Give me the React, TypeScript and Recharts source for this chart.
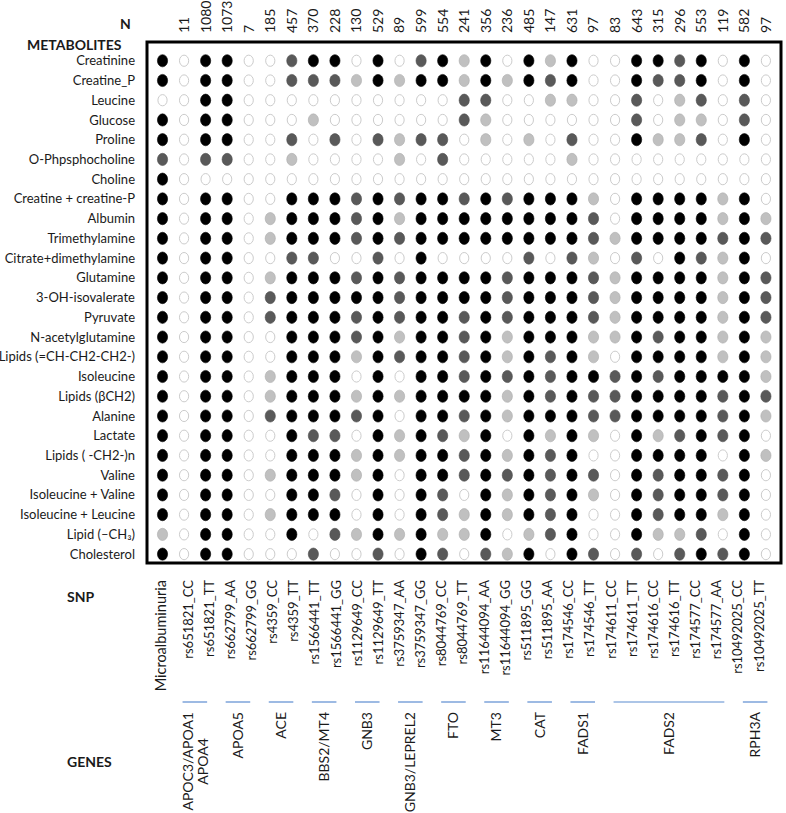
import React from 'react';
import { ScatterChart, Scatter, XAxis, YAxis, ReferenceArea } from 'recharts';

const metabolites = [
  'Creatinine', 'Creatine_P', 'Leucine', 'Glucose', 'Proline', 'O-Phpsphocholine', 'Choline',
  'Creatine + creatine-P', 'Albumin', 'Trimethylamine', 'Citrate+dimethylamine', 'Glutamine',
  '3-OH-isovalerate', 'Pyruvate', 'N-acetylglutamine', 'Lipids (=CH-CH2-CH2-)', 'Isoleucine',
  'Lipids (βCH2)', 'Alanine', 'Lactate', 'Lipids ( -CH2-)n', 'Valine', 'Isoleucine + Valine',
  'Isoleucine + Leucine', 'Lipid (–CH₃)', 'Cholesterol',
];

const snps = [
  'Microalbuminuria', 'rs651821_CC', 'rs651821_TT', 'rs662799_AA', 'rs662799_GG', 'rs4359_CC',
  'rs4359_TT', 'rs1566441_TT', 'rs1566441_GG', 'rs1129649_CC', 'rs1129649_TT', 'rs3759347_AA',
  'rs3759347_GG', 'rs8044769_CC', 'rs8044769_TT', 'rs11644094_AA', 'rs11644094_GG', 'rs511895_GG',
  'rs511895_AA', 'rs174546_CC', 'rs174546_TT', 'rs174611_CC', 'rs174611_TT', 'rs174616_CC',
  'rs174616_TT', 'rs174577_CC', 'rs174577_AA', 'rs10492025_CC', 'rs10492025_TT',
];

// sample size per SNP column (Microalbuminuria has none)
const nCounts = [
  11, 1080, 1073, 7, 185, 457, 370, 228, 130, 529, 89, 599, 554, 241, 356, 236, 485, 147, 631, 97,
  83, 643, 315, 296, 553, 119, 582, 97,
];

const geneNames = [
  ['APOC3/APOA1', 'APOA4'], ['APOA5'], ['ACE'], ['BBS2/MT4'], ['GNB3'], ['GNB3/LEPREL2'], ['FTO'],
  ['MT3'], ['CAT'], ['FADS1'], ['FADS2'], ['RPH3A'],
];
const geneFrom = [1, 3, 5, 7, 9, 11, 13, 15, 17, 19, 21, 27];
const geneTo = [2, 4, 6, 8, 10, 12, 14, 16, 18, 20, 26, 28];

// 0 = none, 1 = light grey, 2 = dark grey, 3 = black
const levels = [
  [3, 0, 3, 3, 0, 0, 2, 3, 3, 0, 3, 0, 2, 3, 1, 3, 0, 3, 1, 3, 0, 0, 3, 3, 2, 3, 0, 3, 0],
  [3, 0, 3, 3, 0, 0, 2, 2, 2, 1, 3, 1, 3, 3, 1, 3, 1, 3, 2, 3, 0, 0, 3, 2, 2, 3, 0, 3, 0],
  [0, 0, 3, 3, 0, 0, 0, 0, 0, 0, 0, 0, 0, 0, 2, 2, 0, 0, 1, 1, 0, 0, 2, 0, 1, 2, 0, 2, 0],
  [3, 0, 3, 3, 0, 0, 0, 1, 0, 0, 0, 0, 0, 0, 2, 1, 0, 0, 0, 0, 0, 0, 2, 0, 1, 1, 0, 2, 0],
  [3, 0, 3, 3, 0, 0, 2, 0, 2, 0, 2, 1, 2, 2, 0, 1, 0, 1, 0, 2, 0, 0, 3, 1, 1, 2, 0, 3, 0],
  [2, 0, 2, 2, 0, 0, 1, 0, 0, 0, 0, 1, 0, 2, 0, 0, 0, 0, 0, 1, 0, 0, 0, 0, 0, 0, 0, 0, 0],
  [3, 0, 0, 0, 0, 0, 0, 0, 0, 0, 0, 0, 0, 0, 0, 0, 0, 0, 0, 0, 0, 0, 0, 0, 0, 0, 0, 0, 0],
  [3, 0, 3, 3, 0, 0, 3, 3, 3, 2, 3, 2, 3, 3, 2, 3, 2, 3, 3, 3, 1, 0, 3, 3, 3, 3, 1, 3, 0],
  [3, 0, 3, 3, 0, 1, 3, 3, 3, 2, 3, 1, 3, 3, 3, 3, 3, 3, 3, 3, 2, 0, 3, 3, 3, 3, 1, 3, 1],
  [3, 0, 3, 3, 0, 1, 3, 3, 3, 2, 3, 2, 3, 3, 3, 3, 3, 3, 3, 3, 2, 1, 3, 3, 3, 3, 2, 3, 2],
  [3, 0, 3, 3, 0, 0, 2, 2, 0, 0, 2, 0, 3, 0, 0, 0, 0, 2, 0, 2, 1, 0, 2, 0, 3, 2, 1, 3, 0],
  [3, 0, 3, 3, 0, 1, 3, 3, 3, 2, 3, 2, 3, 3, 3, 3, 2, 3, 3, 3, 2, 1, 3, 3, 3, 3, 1, 3, 2],
  [3, 0, 3, 3, 0, 2, 3, 3, 3, 3, 3, 2, 3, 3, 3, 3, 2, 3, 3, 3, 2, 1, 3, 3, 3, 3, 1, 3, 2],
  [3, 0, 3, 3, 0, 2, 3, 3, 3, 2, 3, 2, 3, 3, 2, 3, 2, 3, 3, 3, 2, 1, 3, 3, 3, 3, 1, 3, 2],
  [3, 0, 3, 3, 0, 0, 3, 3, 3, 2, 3, 1, 3, 3, 2, 3, 1, 3, 3, 3, 1, 1, 3, 2, 3, 3, 1, 3, 1],
  [3, 0, 3, 3, 0, 0, 3, 3, 3, 1, 3, 2, 3, 3, 2, 3, 1, 3, 2, 3, 1, 0, 3, 3, 3, 3, 1, 3, 1],
  [3, 0, 3, 3, 0, 1, 3, 3, 3, 0, 3, 0, 3, 3, 2, 3, 2, 3, 2, 3, 3, 2, 3, 2, 3, 3, 3, 3, 1],
  [3, 0, 3, 3, 0, 1, 3, 3, 3, 1, 3, 1, 3, 3, 3, 3, 1, 3, 2, 3, 2, 2, 3, 3, 3, 3, 2, 3, 2],
  [3, 0, 3, 3, 0, 2, 3, 3, 3, 2, 3, 0, 3, 3, 2, 3, 1, 3, 3, 3, 2, 2, 3, 3, 3, 3, 2, 3, 1],
  [3, 0, 3, 3, 0, 0, 3, 2, 2, 0, 3, 1, 3, 2, 1, 3, 0, 3, 1, 3, 1, 0, 3, 1, 2, 3, 2, 3, 0],
  [3, 0, 3, 3, 0, 0, 3, 3, 3, 1, 3, 1, 3, 3, 2, 3, 1, 3, 2, 3, 0, 0, 3, 3, 3, 3, 0, 3, 1],
  [3, 0, 3, 3, 0, 1, 3, 3, 3, 1, 3, 0, 3, 3, 2, 3, 2, 3, 2, 3, 2, 0, 3, 2, 3, 3, 2, 3, 0],
  [3, 0, 3, 3, 0, 0, 3, 3, 2, 0, 3, 0, 3, 2, 0, 3, 1, 3, 2, 3, 1, 0, 3, 2, 3, 3, 2, 3, 0],
  [3, 0, 3, 3, 0, 1, 3, 3, 3, 0, 3, 0, 3, 2, 1, 3, 1, 3, 2, 3, 0, 0, 3, 2, 3, 3, 1, 3, 0],
  [1, 0, 3, 3, 0, 0, 3, 0, 2, 1, 3, 1, 3, 1, 1, 3, 0, 1, 2, 3, 0, 0, 3, 1, 1, 2, 0, 3, 0],
  [3, 0, 3, 3, 0, 0, 0, 2, 0, 0, 2, 0, 3, 2, 0, 2, 1, 3, 0, 3, 2, 0, 2, 0, 2, 3, 2, 3, 0],
];

const W = 786;
const H = 813;
const LEFT = 147;
const RIGHT = 5;
const X_DOMAIN: [number, number] = [-0.72, 28.7];
const Y_DOMAIN: [number, number] = [-0.95, 25.45];
const SNP_DOMAIN: [number, number] = [-0.94, 29.04];
const unitPx = (W - LEFT - RIGHT) / (X_DOMAIN[1] - X_DOMAIN[0]);

const FONT = 'Lato, "Open Sans", sans-serif';
const TEXT = '#1a1a1a';
const fills = ['#ffffff', '#c0c0c0', '#595959', '#000000'];
const strokes = ['#cccccc', '#ababab', '#4d4d4d', '#000000'];

const points = levels.flatMap((row, r) => row.map((level, c) => ({ col: c, row: r, level })));

const Dot = (props: any) => {
  const { cx, cy, payload } = props;
  const lv = payload.level;
  const empty = lv === 0;
  return (
    <ellipse
      cx={cx}
      cy={cy}
      rx={empty ? 4.6 : 5.1}
      ry={empty ? 5.6 : 6.1}
      fill={fills[lv]}
      stroke={strokes[lv]}
      strokeWidth={empty ? 1 : 0.6}
    />
  );
};

const Nothing = () => <g />;

const MetaboliteTick = ({ x, y, payload }: any) => (
  <text x={x} y={y} dy="0.35em" textAnchor="end" fontSize={13} fontFamily={FONT} fill={TEXT}>
    {metabolites[payload.value]}
  </text>
);

const NTick = ({ x, y, payload }: any) => {
  const ty = y - 1;
  return (
    <text x={x} y={ty} dy="0.35em" transform={`rotate(-90 ${x} ${ty})`} textAnchor="start" fontSize={14} fontFamily={FONT} fill={TEXT}>
      {nCounts[payload.value - 1]}
    </text>
  );
};

const SnpTick = ({ x, y, payload }: any) => {
  const first = payload.value === 0;
  const tx = first ? x - 6 : x;
  const ty = y + 9;
  return (
    <text x={tx} y={ty} dy="0.35em" transform={`rotate(-90 ${tx} ${ty})`} textAnchor="end" fontSize={first ? 14.5 : 13} fontFamily={FONT} fill={TEXT}>
      {snps[payload.value]}
    </text>
  );
};

const GeneTick = ({ x, y, index }: any) => {
  const half = ((geneTo[index] - geneFrom[index]) / 2 + 0.07) * unitPx;
  const lines = geneNames[index];
  const ty = y + 16;
  return (
    <g>
      <line x1={x - half} x2={x + half} y1={y + 6} y2={y + 6} stroke="#5b8bd0" strokeWidth={1.2} />
      {lines.length === 1 ? (
        <text x={x} y={ty} dy="0.35em" transform={`rotate(-90 ${x} ${ty})`} textAnchor="end" fontSize={14} fontFamily={FONT} fill={TEXT}>
          {lines[0]}
        </text>
      ) : (
        <g transform={`rotate(-90 ${x} ${ty})`}>
          <text x={x} y={ty} dy="-0.15em" textAnchor="end" fontSize={14} fontFamily={FONT} fill={TEXT}>
            {lines[0]}
          </text>
          <text x={x - lines[0].length * 0.6 * 14 * 0.5 * 1.07} y={ty} dy="0.95em" textAnchor="middle" fontSize={14} fontFamily={FONT} fill={TEXT}>
            {lines[1]}
          </text>
        </g>
      )}
    </g>
  );
};

const labelStyle: React.CSSProperties = {
  position: 'absolute',
  fontFamily: FONT,
  fontWeight: 700,
  fontSize: 14,
  lineHeight: '16px',
  color: TEXT,
};

const App: React.FC = () => {
  const geneCenters = geneFrom.map((f, i) => (f + geneTo[i]) / 2);
  return (
    <div style={{ position: 'absolute', left: 0, top: 0, width: W, height: H, background: '#fff' }}>
      <ScatterChart width={W} height={H} margin={{ top: 2, right: RIGHT, bottom: 0, left: 0 }}>
        <XAxis xAxisId="a_main" type="number" dataKey="col" domain={X_DOMAIN} allowDataOverflow hide height={0} />
        <XAxis
          xAxisId="a_n"
          orientation="top"
          type="number"
          dataKey="col"
          domain={X_DOMAIN}
          allowDataOverflow
          ticks={nCounts.map((_, i) => i + 1)}
          interval={0}
          height={40}
          axisLine={false}
          tickLine={false}
          tick={<NTick />}
        />
        <XAxis
          xAxisId="b1_snp"
          orientation="bottom"
          type="number"
          dataKey="col"
          domain={SNP_DOMAIN}
          allowDataOverflow
          ticks={snps.map((_, i) => i)}
          interval={0}
          height={125}
          axisLine={false}
          tickLine={false}
          tick={<SnpTick />}
        />
        <XAxis
          xAxisId="b2_gene"
          orientation="bottom"
          type="number"
          dataKey="col"
          domain={X_DOMAIN}
          allowDataOverflow
          ticks={geneCenters}
          interval={0}
          height={125}
          axisLine={false}
          tickLine={false}
          tick={<GeneTick />}
        />
        <YAxis
          type="number"
          dataKey="row"
          domain={Y_DOMAIN}
          allowDataOverflow
          reversed
          ticks={metabolites.map((_, i) => i)}
          interval={0}
          width={LEFT}
          axisLine={false}
          tickLine={false}
          tickMargin={6}
          tick={<MetaboliteTick />}
        />
        <ReferenceArea
          xAxisId="a_main"
          x1={X_DOMAIN[0]}
          x2={X_DOMAIN[1]}
          y1={Y_DOMAIN[0]}
          y2={Y_DOMAIN[1]}
          fill="none"
          stroke="#000"
          strokeWidth={3}
          ifOverflow="visible"
        />
        <Scatter xAxisId="a_n" data={points} shape={<Nothing />} isAnimationActive={false} />
        <Scatter xAxisId="b1_snp" data={points} shape={<Nothing />} isAnimationActive={false} />
        <Scatter xAxisId="b2_gene" data={points} shape={<Nothing />} isAnimationActive={false} />
        <Scatter xAxisId="a_main" data={points} shape={<Dot />} isAnimationActive={false} />
      </ScatterChart>
      <div style={{ ...labelStyle, left: 120, top: 16 }}>N</div>
      <div style={{ ...labelStyle, left: 27, top: 37 }}>METABOLITES</div>
      <div style={{ ...labelStyle, left: 67, top: 589 }}>SNP</div>
      <div style={{ ...labelStyle, left: 67, top: 754 }}>GENES</div>
    </div>
  );
};

export default App;
